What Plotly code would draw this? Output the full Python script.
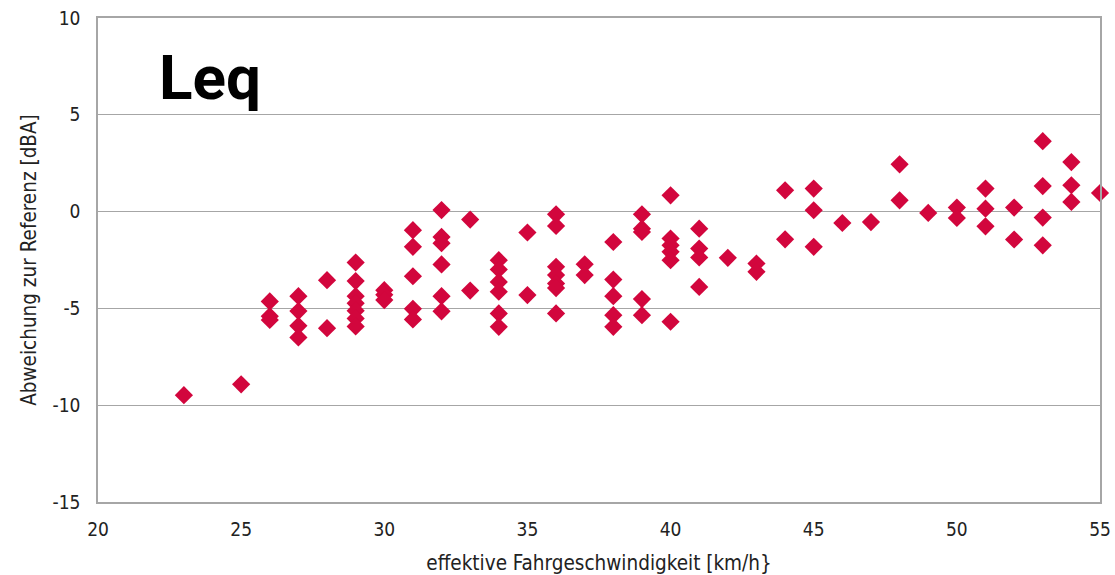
import plotly.graph_objects as go

speed = [23, 25,
         26, 26, 26,
         27, 27, 27, 27,
         28, 28,
         29, 29, 29, 29, 29, 29, 29,
         30, 30, 30,
         31, 31, 31, 31, 31,
         32, 32, 32, 32, 32, 32,
         33, 33,
         34, 34, 34, 34, 34, 34,
         35, 35,
         36, 36, 36, 36, 36, 36, 36,
         37, 37,
         38, 38, 38, 38, 38,
         39, 39, 39, 39, 39,
         40, 40, 40, 40, 40, 40,
         41, 41, 41, 41,
         42,
         43, 43,
         44, 44,
         45, 45, 45,
         46, 47,
         48, 48,
         49,
         50, 50,
         51, 51, 51,
         52, 52,
         53, 53, 53, 53,
         54, 54, 54,
         55]
deviation = [-9.48, -8.92,
             -4.64, -5.4, -5.6,
             -4.37, -5.14, -5.9, -6.5,
             -3.54, -6.02,
             -2.63, -3.59, -4.37, -4.74, -5.12, -5.52, -5.93,
             -4.06, -4.3, -4.57,
             -0.96, -1.82, -3.34, -5.02, -5.57,
             0.08, -1.31, -1.63, -2.73, -4.37, -5.15,
             -0.41, -4.08,
             -2.51, -2.99, -3.63, -4.14, -5.26, -5.95,
             -1.08, -4.31,
             -0.14, -0.74, -2.85, -3.28, -3.72, -3.95, -5.26,
             -2.72, -3.28,
             -1.57, -3.51, -4.37, -5.35, -5.95,
             -0.14, -0.88, -1.05, -4.52, -5.35,
             0.84, -1.39, -1.74, -2.08, -2.51, -5.69,
             -0.88, -1.91, -2.37, -3.89,
             -2.39,
             -2.68, -3.11,
             1.1, -1.43,
             1.19, 0.07, -1.82,
             -0.59, -0.54,
             2.44, 0.58,
             -0.07,
             0.21, -0.33,
             1.19, 0.15, -0.76,
             0.21, -1.44,
             3.64, 1.32, -0.31, -1.74,
             2.56, 1.36, 0.5,
             0.96]

x_ticks = [20, 25, 30, 35, 40, 45, 50, 55]
y_ticks = [-15, -10, -5, 0, 5, 10]

font_family = "DejaVu Sans Condensed, Liberation Sans Narrow, Roboto, sans-serif"

fig = go.Figure()
fig.add_trace(go.Scatter(
    x=speed, y=deviation, mode="markers",
    marker=dict(symbol="diamond", size=14, color="#D2063D", line=dict(width=0)),
    showlegend=False,
    cliponaxis=False,
    hoverinfo="skip",
))

fig.update_layout(
    template="none",
    width=1115, height=575,
    margin=dict(l=98, r=15, t=18, b=73, autoexpand=False),
    paper_bgcolor="white", plot_bgcolor="white",
    font=dict(family=font_family, size=19, color="#222222"),
    xaxis=dict(
        range=[20, 55], tickvals=x_ticks, ticktext=[str(v) for v in x_ticks],
        showgrid=False, zeroline=False, automargin=False,
        showline=True, linecolor="#A6A6A6", linewidth=1.5, mirror=True,
        ticks="outside", ticklen=9, tickcolor="rgba(0,0,0,0)",
        tickfont=dict(size=19), ticklabeloverflow="allow",
        title=dict(text="effektive Fahrgeschwindigkeit [km/h}", font=dict(size=20.5), standoff=19),
    ),
    yaxis=dict(
        range=[-15, 10], tickvals=y_ticks, ticktext=[str(v) for v in y_ticks],
        showgrid=True, gridcolor="#A6A6A6", gridwidth=1.3, zeroline=False, automargin=False,
        showline=True, linecolor="#A6A6A6", linewidth=1.5, mirror=True,
        ticks="outside", ticklen=12, tickcolor="rgba(0,0,0,0)",
        tickfont=dict(size=19), ticklabeloverflow="allow",
        title=dict(text="Abweichung zur Referenz [dBA]", font=dict(size=20.5), standoff=10),
    ),
    annotations=[dict(
        text="<b>Leq</b>", xref="paper", yref="paper", x=0.059, y=0.957,
        xanchor="left", yanchor="top", showarrow=False,
        font=dict(family="Roboto, DejaVu Sans, sans-serif", size=62, color="black"),
    )],
)

page_fix = ("document.documentElement.style.margin='0';document.documentElement.style.overflow='hidden';"
            "document.body.style.margin='0';document.body.style.padding='0';document.body.style.overflow='hidden';")

fig.write_html("out.html", post_script=page_fix, config={"displayModeBar": False})
